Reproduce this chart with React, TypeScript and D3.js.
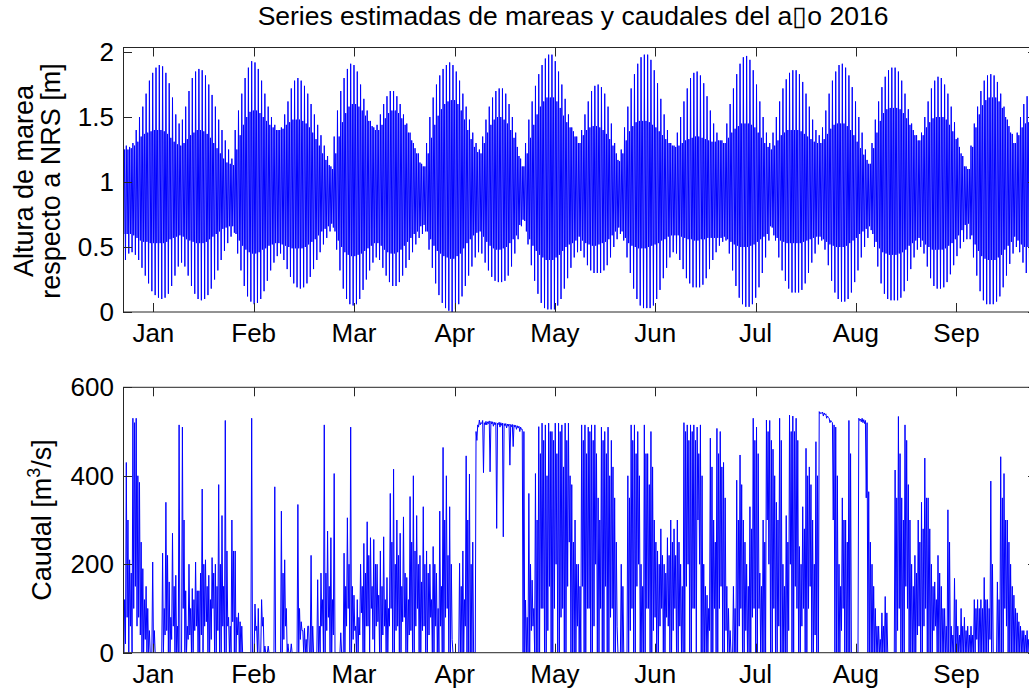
import React from 'react';
import * as d3 from 'd3';

// Month labels and where their ticks fall, in days from the start of the record
const monthLabels = ['Jan', 'Feb', 'Mar', 'Apr', 'May', 'Jun', 'Jul', 'Aug', 'Sep'];
const monthTickDays = [9.2, 39.6, 70.0, 100.5, 130.9, 161.3, 191.7, 222.1, 252.6];

const tideTicks = [0, 0.5, 1, 1.5, 2];
const tideTickLabels = ['0', '0.5', '1', '1.5', '2'];
const flowTicks = [0, 200, 400, 600];
const flowTickLabels = ['0', '200', '400', '600'];

// Daily tide extremes [m, respecto a NRS]: higher high, higher low, lower high, lower low
const higherHigh = [
  1.45, 1.28, 1.27, 1.30, 1.40, 1.50, 1.58, 1.68, 1.78, 1.84,
  1.88, 1.90, 1.89, 1.84, 1.76, 1.65, 1.52, 1.45, 1.48, 1.58,
  1.70, 1.80, 1.85, 1.87, 1.86, 1.82, 1.75, 1.67, 1.58, 1.48,
  1.40, 1.32, 1.25, 1.18, 1.40, 1.55, 1.68, 1.80, 1.88, 1.93,
  1.92, 1.87, 1.78, 1.68, 1.58, 1.50, 1.44, 1.40, 1.42, 1.52,
  1.62, 1.72, 1.78, 1.80, 1.78, 1.74, 1.68, 1.60, 1.52, 1.44,
  1.36, 1.28, 1.20, 1.12, 1.35, 1.55, 1.70, 1.80, 1.87, 1.91,
  1.90, 1.85, 1.75, 1.64, 1.55, 1.47, 1.42, 1.44, 1.52, 1.60,
  1.66, 1.70, 1.70, 1.66, 1.60, 1.52, 1.45, 1.38, 1.30, 1.22,
  1.15, 1.12, 1.30, 1.50, 1.65, 1.75, 1.82, 1.87, 1.90, 1.92,
  1.90, 1.85, 1.78, 1.68, 1.58, 1.48, 1.38, 1.30, 1.25, 1.35,
  1.48, 1.58, 1.65, 1.70, 1.72, 1.72, 1.68, 1.60, 1.50, 1.38,
  1.20, 1.12, 1.30, 1.48, 1.62, 1.74, 1.83, 1.90, 1.95, 1.98,
  1.98, 1.93, 1.85, 1.75, 1.64, 1.52, 1.42, 1.35, 1.30, 1.40,
  1.52, 1.62, 1.70, 1.74, 1.75, 1.73, 1.68, 1.58, 1.45, 1.30,
  1.17, 1.25, 1.42, 1.58, 1.72, 1.83, 1.91, 1.96, 1.98, 1.98,
  1.94, 1.86, 1.76, 1.64, 1.52, 1.40, 1.30, 1.28, 1.38, 1.50,
  1.62, 1.72, 1.80, 1.84, 1.85, 1.82, 1.76, 1.66, 1.55, 1.45,
  1.38, 1.32, 1.30, 1.45, 1.60, 1.72, 1.83, 1.91, 1.96, 1.97,
  1.94, 1.86, 1.75, 1.62, 1.50, 1.38, 1.30, 1.38, 1.50, 1.62,
  1.72, 1.79, 1.84, 1.86, 1.86, 1.83, 1.77, 1.68, 1.58, 1.48,
  1.40, 1.36, 1.42, 1.55, 1.68, 1.78, 1.85, 1.90, 1.91, 1.88,
  1.82, 1.73, 1.62, 1.50, 1.38, 1.25, 1.14, 1.30, 1.48, 1.62,
  1.73, 1.81, 1.86, 1.88, 1.88, 1.85, 1.78, 1.68, 1.56, 1.45,
  1.36, 1.32, 1.38, 1.50, 1.62, 1.72, 1.78, 1.81, 1.80, 1.75,
  1.68, 1.58, 1.46, 1.34, 1.22, 1.12, 1.10, 1.28, 1.45, 1.58,
  1.70, 1.78, 1.82, 1.83, 1.82, 1.77, 1.68, 1.58, 1.48, 1.38,
  1.30, 1.38, 1.50, 1.60, 1.66, 1.70, 1.76, 1.82,
];

const higherLow = [
  0.60, 0.60, 0.60, 0.59, 0.57, 0.55, 0.54, 0.54, 0.53, 0.53,
  0.53, 0.53, 0.53, 0.54, 0.56, 0.57, 0.58, 0.59, 0.58, 0.56,
  0.55, 0.54, 0.53, 0.53, 0.53, 0.54, 0.56, 0.58, 0.60, 0.62,
  0.64, 0.65, 0.66, 0.66, 0.60, 0.55, 0.51, 0.48, 0.46, 0.45,
  0.45, 0.46, 0.48, 0.49, 0.51, 0.52, 0.53, 0.53, 0.52, 0.51,
  0.50, 0.49, 0.49, 0.49, 0.49, 0.50, 0.52, 0.54, 0.56, 0.59,
  0.62, 0.64, 0.66, 0.68, 0.62, 0.55, 0.50, 0.46, 0.44, 0.43,
  0.43, 0.44, 0.45, 0.47, 0.49, 0.51, 0.53, 0.53, 0.51, 0.48,
  0.46, 0.45, 0.45, 0.46, 0.48, 0.51, 0.54, 0.57, 0.60, 0.62,
  0.66, 0.67, 0.62, 0.56, 0.51, 0.47, 0.45, 0.43, 0.42, 0.41,
  0.41, 0.43, 0.45, 0.49, 0.53, 0.56, 0.59, 0.61, 0.62, 0.58,
  0.54, 0.51, 0.49, 0.48, 0.48, 0.49, 0.50, 0.53, 0.56, 0.59,
  0.67, 0.71, 0.62, 0.56, 0.51, 0.47, 0.44, 0.42, 0.40, 0.40,
  0.40, 0.42, 0.44, 0.47, 0.50, 0.52, 0.53, 0.55, 0.58, 0.55,
  0.53, 0.52, 0.51, 0.51, 0.52, 0.53, 0.54, 0.56, 0.59, 0.62,
  0.65, 0.62, 0.57, 0.53, 0.51, 0.50, 0.49, 0.49, 0.49, 0.50,
  0.51, 0.52, 0.53, 0.55, 0.56, 0.58, 0.59, 0.59, 0.59, 0.58,
  0.57, 0.56, 0.56, 0.55, 0.55, 0.56, 0.56, 0.57, 0.57, 0.57,
  0.57, 0.57, 0.58, 0.56, 0.54, 0.52, 0.51, 0.50, 0.50, 0.50,
  0.51, 0.52, 0.54, 0.56, 0.58, 0.60, 0.66, 0.59, 0.57, 0.55,
  0.54, 0.53, 0.53, 0.53, 0.53, 0.53, 0.54, 0.55, 0.56, 0.57,
  0.58, 0.58, 0.56, 0.54, 0.52, 0.51, 0.50, 0.50, 0.50, 0.51,
  0.53, 0.55, 0.57, 0.60, 0.62, 0.64, 0.66, 0.60, 0.54, 0.49,
  0.46, 0.45, 0.44, 0.44, 0.44, 0.45, 0.46, 0.48, 0.51, 0.53,
  0.55, 0.57, 0.55, 0.52, 0.50, 0.48, 0.48, 0.48, 0.48, 0.49,
  0.51, 0.53, 0.56, 0.59, 0.63, 0.67, 0.68, 0.59, 0.52, 0.47,
  0.43, 0.41, 0.40, 0.40, 0.40, 0.42, 0.44, 0.48, 0.51, 0.54,
  0.58, 0.55, 0.52, 0.50, 0.50, 0.49, 0.48, 0.47,
];

const lowerHigh = [
  1.25, 1.25, 1.26, 1.28, 1.31, 1.35, 1.37, 1.38, 1.39, 1.40,
  1.40, 1.40, 1.39, 1.37, 1.34, 1.31, 1.29, 1.28, 1.30, 1.33,
  1.36, 1.38, 1.40, 1.40, 1.39, 1.37, 1.34, 1.30, 1.26, 1.22,
  1.18, 1.15, 1.14, 1.13, 1.25, 1.36, 1.44, 1.50, 1.54, 1.55,
  1.55, 1.53, 1.50, 1.47, 1.44, 1.42, 1.40, 1.40, 1.41, 1.44,
  1.46, 1.48, 1.48, 1.48, 1.47, 1.45, 1.42, 1.38, 1.33, 1.28,
  1.22, 1.17, 1.13, 1.10, 1.22, 1.35, 1.46, 1.53, 1.58, 1.60,
  1.60, 1.58, 1.55, 1.51, 1.47, 1.43, 1.40, 1.40, 1.44, 1.49,
  1.53, 1.55, 1.55, 1.53, 1.49, 1.44, 1.38, 1.32, 1.26, 1.22,
  1.14, 1.12, 1.22, 1.34, 1.44, 1.51, 1.56, 1.60, 1.62, 1.63,
  1.63, 1.60, 1.55, 1.48, 1.40, 1.33, 1.27, 1.23, 1.22, 1.30,
  1.38, 1.44, 1.48, 1.50, 1.50, 1.48, 1.45, 1.40, 1.34, 1.27,
  1.18, 1.12, 1.22, 1.34, 1.44, 1.52, 1.58, 1.62, 1.65, 1.65,
  1.65, 1.62, 1.57, 1.51, 1.46, 1.42, 1.39, 1.35, 1.30, 1.36,
  1.40, 1.42, 1.43, 1.43, 1.42, 1.40, 1.37, 1.33, 1.28, 1.22,
  1.16, 1.22, 1.32, 1.39, 1.43, 1.46, 1.47, 1.47, 1.47, 1.46,
  1.44, 1.42, 1.39, 1.36, 1.33, 1.30, 1.28, 1.27, 1.28, 1.30,
  1.32, 1.33, 1.34, 1.35, 1.35, 1.34, 1.33, 1.32, 1.31, 1.31,
  1.32, 1.32, 1.30, 1.34, 1.38, 1.41, 1.43, 1.45, 1.45, 1.45,
  1.44, 1.42, 1.38, 1.34, 1.30, 1.27, 1.25, 1.28, 1.32, 1.36,
  1.38, 1.40, 1.40, 1.40, 1.40, 1.39, 1.37, 1.35, 1.33, 1.31,
  1.30, 1.30, 1.33, 1.37, 1.41, 1.44, 1.45, 1.45, 1.45, 1.43,
  1.40, 1.36, 1.31, 1.26, 1.21, 1.17, 1.14, 1.26, 1.38, 1.47,
  1.53, 1.56, 1.57, 1.57, 1.57, 1.56, 1.53, 1.49, 1.44, 1.40,
  1.36, 1.32, 1.36, 1.42, 1.46, 1.49, 1.50, 1.50, 1.50, 1.48,
  1.44, 1.39, 1.33, 1.27, 1.20, 1.12, 1.10, 1.27, 1.42, 1.52,
  1.59, 1.63, 1.65, 1.65, 1.65, 1.62, 1.57, 1.50, 1.43, 1.37,
  1.30, 1.36, 1.42, 1.45, 1.46, 1.47, 1.48, 1.50,
];

const lowerLow = [
  0.40, 0.45, 0.46, 0.44, 0.40, 0.34, 0.28, 0.22, 0.16, 0.13,
  0.11, 0.10, 0.11, 0.14, 0.20, 0.28, 0.35, 0.38, 0.35, 0.28,
  0.20, 0.14, 0.10, 0.09, 0.10, 0.13, 0.18, 0.25, 0.32, 0.40,
  0.47, 0.53, 0.58, 0.61, 0.45, 0.32, 0.20, 0.12, 0.08, 0.06,
  0.07, 0.10, 0.16, 0.24, 0.32, 0.38, 0.43, 0.45, 0.40, 0.33,
  0.27, 0.22, 0.19, 0.18, 0.19, 0.22, 0.27, 0.33, 0.40, 0.46,
  0.52, 0.57, 0.62, 0.65, 0.48, 0.32, 0.18, 0.10, 0.06, 0.05,
  0.06, 0.10, 0.17, 0.25, 0.32, 0.38, 0.42, 0.40, 0.34, 0.28,
  0.23, 0.20, 0.20, 0.23, 0.28, 0.34, 0.40, 0.46, 0.52, 0.57,
  0.60, 0.62, 0.48, 0.34, 0.22, 0.13, 0.07, 0.03, 0.01, 0.00,
  0.02, 0.06, 0.12, 0.20, 0.28, 0.35, 0.42, 0.46, 0.45, 0.38,
  0.32, 0.27, 0.24, 0.23, 0.23, 0.24, 0.28, 0.35, 0.45, 0.56,
  0.66, 0.70, 0.52, 0.36, 0.24, 0.14, 0.07, 0.03, 0.02, 0.02,
  0.02, 0.05, 0.10, 0.18, 0.26, 0.34, 0.42, 0.46, 0.47, 0.42,
  0.36, 0.32, 0.30, 0.30, 0.30, 0.32, 0.36, 0.42, 0.50, 0.56,
  0.60, 0.55, 0.42, 0.30, 0.18, 0.10, 0.05, 0.03, 0.03, 0.03,
  0.05, 0.10, 0.17, 0.26, 0.34, 0.42, 0.46, 0.45, 0.40, 0.33,
  0.26, 0.22, 0.19, 0.19, 0.19, 0.21, 0.26, 0.33, 0.40, 0.46,
  0.51, 0.54, 0.55, 0.45, 0.32, 0.20, 0.11, 0.06, 0.04, 0.04,
  0.06, 0.11, 0.19, 0.30, 0.42, 0.55, 0.65, 0.55, 0.42, 0.32,
  0.24, 0.18, 0.15, 0.15, 0.15, 0.17, 0.22, 0.30, 0.38, 0.45,
  0.52, 0.55, 0.48, 0.36, 0.24, 0.15, 0.10, 0.08, 0.08, 0.10,
  0.15, 0.23, 0.32, 0.42, 0.50, 0.57, 0.63, 0.50, 0.35, 0.22,
  0.14, 0.10, 0.09, 0.09, 0.09, 0.11, 0.16, 0.24, 0.33, 0.42,
  0.48, 0.50, 0.45, 0.35, 0.26, 0.20, 0.18, 0.18, 0.19, 0.23,
  0.29, 0.36, 0.43, 0.49, 0.54, 0.56, 0.56, 0.42, 0.28, 0.16,
  0.09, 0.06, 0.06, 0.06, 0.08, 0.12, 0.19, 0.28, 0.37, 0.45,
  0.50, 0.46, 0.38, 0.30, 0.24, 0.20, 0.15, 0.11,
];

// Discharge [m3/s], four readings per day: main peak, first low, second peak, second low
const flowPeak = [
  170, 430, 210, 530, 530, 385, 190, 150, 50, 205,
  0, 0, 225, 340, 160, 270, 175, 515, 510, 140,
  200, 145, 205, 140, 370, 210, 175, 215, 200, 380,
  310, 525, 80, 300, 230, 90, 60, 0, 0, 530,
  110, 100, 120, 15, 15, 0, 375, 0, 320, 210,
  20, 20, 0, 335, 70, 55, 60, 220, 0, 165,
  180, 515, 275, 260, 405, 0, 45, 225, 305, 510,
  130, 120, 200, 247, 296, 260, 256, 200, 230, 262,
  170, 360, 415, 300, 270, 307, 170, 353, 400, 310,
  220, 330, 230, 200, 240, 180, 320, 464, 400, 330,
  0, 0, 202, 230, 445, 404, 250, 500, 526, 525,
  523, 524, 522, 520, 521, 519, 518, 517, 516, 514,
  512, 505, 119, 360, 164, 405, 511, 519, 515, 519,
  500, 519, 519, 515, 519, 519, 380, 300, 200, 515,
  515, 510, 515, 515, 350, 510, 500, 510, 480, 350,
  0, 200, 0, 400, 515, 515, 500, 200, 515, 450,
  500, 300, 230, 280, 200, 260, 300, 280, 300, 200,
  520, 515, 515, 515, 510, 515, 200, 130, 485, 300,
  507, 500, 430, 150, 50, 150, 390, 447, 300, 200,
  330, 530, 510, 180, 300, 526, 525, 460, 340, 530,
  200, 310, 537, 535, 530, 240, 330, 462, 420, 300,
  477, 545, 544, 540, 530, 520, 510, 200, 350, 300,
  525, 0, 0, 530, 530, 525, 364, 200, 100, 60,
  90, 127, 0, 0, 413, 534, 350, 515, 380, 200,
  220, 300, 340, 440, 350, 200, 160, 220, 150, 100,
  323, 60, 168, 60, 100, 80, 60, 60, 120, 120,
  120, 170, 120, 388, 0, 160, 443, 405, 300, 200,
  130, 90, 60, 50, 50, 0, 40, 60,
];

const flowBase = [
  0, 80, 60, 100, 60, 40, 0, 0, 0, 0,
  0, 0, 0, 50, 0, 60, 0, 0, 100, 0,
  40, 0, 60, 0, 0, 70, 0, 100, 0, 0,
  60, 0, 0, 70, 0, 0, 0, 0, 0, 0,
  50, 0, 60, 0, 0, 0, 0, 0, 0, 60,
  0, 0, 0, 0, 50, 0, 60, 0, 0, 0,
  60, 0, 80, 0, 0, 0, 0, 0, 100, 0,
  50, 0, 90, 0, 60, 100, 0, 70, 0, 60,
  0, 100, 0, 60, 0, 80, 0, 50, 0, 100,
  0, 60, 0, 80, 0, 0, 60, 0, 100, 0,
  0, 0, 0, 0, 0, 0, 0, 480, 515, 407,
  515, 409, 512, 281, 510, 262, 508, 424, 466, 505,
  500, 0, 0, 0, 60, 0, 0, 100, 0, 150,
  0, 200, 0, 100, 0, 250, 0, 0, 0, 150,
  0, 100, 0, 200, 0, 0, 150, 0, 100, 0,
  0, 0, 0, 0, 100, 0, 200, 0, 0, 100,
  0, 80, 0, 100, 0, 60, 0, 100, 0, 0,
  0, 200, 0, 100, 300, 0, 0, 0, 0, 100,
  0, 150, 0, 0, 0, 0, 0, 100, 0, 0,
  0, 100, 0, 0, 0, 300, 0, 100, 0, 0,
  0, 0, 200, 0, 100, 0, 100, 0, 150, 0,
  0, 540, 535, 530, 520, 300, 0, 0, 100, 0,
  0, 0, 0, 525, 520, 350, 0, 0, 0, 0,
  0, 0, 0, 0, 0, 100, 0, 150, 0, 0,
  0, 60, 0, 100, 0, 0, 60, 0, 0, 0,
  0, 0, 0, 0, 0, 0, 0, 0, 0, 0,
  0, 0, 0, 0, 0, 0, 0, 100, 0, 0,
  0, 0, 0, 0, 0, 0, 0, 0,
];

const flowSecondPeak = [
  120, 300, 180, 520, 400, 250, 120, 100, 0, 50,
  0, 0, 100, 220, 80, 150, 60, 0, 300, 60,
  100, 120, 140, 180, 200, 150, 120, 180, 150, 200,
  150, 230, 60, 230, 80, 70, 0, 0, 0, 0,
  60, 0, 80, 0, 0, 0, 0, 0, 180, 100,
  0, 0, 0, 100, 50, 30, 0, 60, 0, 60,
  120, 180, 150, 120, 0, 0, 0, 150, 200, 150,
  60, 80, 150, 180, 220, 150, 200, 130, 150, 120,
  100, 250, 200, 220, 150, 180, 120, 250, 230, 200,
  160, 200, 180, 120, 200, 100, 150, 300, 220, 200,
  0, 0, 150, 120, 300, 200, 0, 515, 520, 520,
  522, 523, 521, 519, 520, 518, 517, 516, 515, 513,
  510, 500, 80, 200, 100, 300, 450, 480, 400, 500,
  480, 450, 500, 420, 480, 400, 250, 200, 150, 480,
  450, 500, 480, 450, 300, 480, 450, 400, 420, 250,
  0, 150, 0, 350, 480, 450, 400, 150, 450, 380,
  420, 250, 200, 220, 180, 220, 250, 220, 250, 150,
  500, 480, 500, 480, 450, 400, 150, 100, 420, 250,
  450, 420, 350, 100, 0, 100, 300, 380, 250, 150,
  280, 480, 450, 150, 250, 500, 480, 400, 300, 480,
  150, 250, 500, 500, 480, 200, 280, 400, 380, 200,
  400, 543, 542, 535, 525, 515, 400, 150, 300, 250,
  450, 0, 0, 528, 527, 520, 250, 150, 60, 30,
  60, 90, 0, 0, 350, 450, 300, 480, 300, 150,
  180, 250, 280, 350, 280, 150, 120, 180, 100, 60,
  250, 40, 120, 40, 60, 50, 40, 40, 100, 100,
  100, 120, 100, 200, 0, 120, 350, 300, 250, 150,
  100, 70, 50, 40, 30, 0, 30, 40,
];

const flowSecondBase = [
  20, 0, 0, 150, 80, 0, 30, 0, 0, 0,
  0, 0, 40, 0, 30, 0, 0, 0, 0, 30,
  0, 50, 0, 40, 60, 0, 30, 0, 50, 0,
  0, 60, 0, 0, 40, 0, 0, 0, 0, 0,
  0, 0, 0, 0, 0, 0, 0, 0, 30, 0,
  0, 0, 0, 30, 0, 0, 0, 0, 0, 0,
  0, 50, 0, 40, 0, 0, 0, 60, 0, 30,
  0, 40, 0, 60, 0, 30, 60, 0, 40, 0,
  60, 0, 50, 0, 70, 0, 40, 0, 60, 0,
  50, 0, 40, 0, 60, 0, 0, 80, 0, 30,
  0, 0, 0, 60, 0, 0, 0, 510, 518, 515,
  518, 517, 515, 516, 514, 513, 512, 511, 510, 508,
  505, 0, 0, 50, 0, 0, 100, 0, 50, 0,
  100, 0, 80, 0, 150, 0, 0, 60, 0, 0,
  100, 0, 60, 0, 100, 0, 0, 80, 0, 60,
  0, 0, 0, 50, 0, 150, 0, 0, 100, 0,
  50, 0, 60, 0, 80, 0, 50, 0, 60, 0,
  150, 0, 100, 0, 200, 0, 0, 50, 0, 0,
  100, 0, 50, 0, 0, 0, 60, 0, 50, 0,
  80, 0, 100, 0, 0, 200, 0, 0, 60, 0,
  0, 50, 0, 150, 0, 60, 0, 100, 0, 40,
  0, 541, 538, 532, 522, 0, 0, 50, 0, 0,
  0, 0, 0, 522, 518, 0, 0, 0, 0, 0,
  0, 0, 0, 0, 50, 0, 0, 100, 0, 0,
  40, 0, 60, 0, 0, 50, 0, 0, 0, 0,
  0, 0, 0, 0, 0, 0, 0, 0, 30, 0,
  0, 0, 30, 0, 0, 0, 0, 60, 0, 0,
  0, 0, 0, 0, 0, 0, 0, 0,
];

const W = 1029;
const H = 690;
const LEFT = 123;
const RIGHT = 1037;
const TIDE_TOP = 47.5;
const TIDE_BOTTOM = 312;
const FLOW_TOP = 387.3;
const FLOW_BOTTOM = 652.7;
const FONT = '"Liberation Sans", Arial, Helvetica, sans-serif';
const AXIS_COLOR = '#262626';
const LINE_COLOR = '#0000ff';
const TICK_LEN = 9;
const TICK_FONT = 26;
const LABEL_FONT = 27;

const x = d3.scaleLinear().domain([0, 277]).range([LEFT, RIGHT]);
const yTide = d3.scaleLinear().domain([0, 2.035]).range([TIDE_BOTTOM, TIDE_TOP]);
const yFlow = d3.scaleLinear().domain([0, 600]).range([FLOW_BOTTOM, FLOW_TOP]);

type Pt = [number, number];

// Four turning points per day: high, low, high, low
const tidePoints: Pt[] = [];
higherHigh.forEach((_, i) => {
  tidePoints.push([i, higherHigh[i]]);
  tidePoints.push([i + 0.25, higherLow[i]]);
  tidePoints.push([i + 0.5, lowerHigh[i]]);
  tidePoints.push([i + 0.75, lowerLow[i]]);
});

const flowPoints: Pt[] = [];
flowPeak.forEach((_, i) => {
  flowPoints.push([i, flowPeak[i]]);
  flowPoints.push([i + 0.25, flowBase[i]]);
  flowPoints.push([i + 0.5, flowSecondPeak[i]]);
  flowPoints.push([i + 0.75, flowSecondBase[i]]);
});

const tidePath = d3.line<Pt>().x((d) => x(d[0])).y((d) => yTide(d[1]))(tidePoints) || '';
const flowPath = d3.line<Pt>().x((d) => x(d[0])).y((d) => yFlow(d[1]))(flowPoints) || '';

function Frame(props: {
  top: number;
  bottom: number;
  y: d3.ScaleLinear<number, number>;
  yTicks: number[];
  yLabels: string[];
}) {
  const { top, bottom, y, yTicks, yLabels } = props;
  return (
    <g>
      <rect
        x={LEFT + 0.5}
        y={top}
        width={RIGHT - LEFT}
        height={bottom - top}
        fill="none"
        stroke={AXIS_COLOR}
        strokeWidth={1}
      />
      {monthTickDays.map((d, i) => {
        const px = Math.round(x(d)) + 0.5;
        return (
          <g key={'mx' + i}>
            <line x1={px} x2={px} y1={bottom} y2={bottom - TICK_LEN} stroke={AXIS_COLOR} />
            <line x1={px} x2={px} y1={top} y2={top + TICK_LEN} stroke={AXIS_COLOR} />
            <text
              x={x(d)}
              y={bottom + 30}
              textAnchor="middle"
              fontFamily={FONT}
              fontSize={TICK_FONT}
              fill="#000"
            >
              {monthLabels[i]}
            </text>
          </g>
        );
      })}
      {yTicks.map((t, i) => {
        const py = Math.round(y(t)) + 0.5;
        return (
          <g key={'yt' + i}>
            <line x1={LEFT} x2={LEFT + TICK_LEN} y1={py} y2={py} stroke={AXIS_COLOR} />
            <line x1={RIGHT} x2={RIGHT - TICK_LEN} y1={py} y2={py} stroke={AXIS_COLOR} />
            <text
              x={114}
              y={y(t) + 9}
              textAnchor="end"
              fontFamily={FONT}
              fontSize={TICK_FONT}
              fill="#000"
            >
              {yLabels[i]}
            </text>
          </g>
        );
      })}
    </g>
  );
}

export default function App() {
  return (
    <div style={{ position: 'absolute', left: 0, top: 0 }}>
      <svg width={W} height={H} viewBox={`0 0 ${W} ${H}`} style={{ display: 'block', background: '#fff' }}>
        <defs>
          <clipPath id="clipTide">
            <rect x={LEFT} y={TIDE_TOP} width={RIGHT - LEFT} height={TIDE_BOTTOM - TIDE_TOP} />
          </clipPath>
          <clipPath id="clipFlow">
            <rect x={LEFT} y={FLOW_TOP} width={RIGHT - LEFT} height={FLOW_BOTTOM - FLOW_TOP} />
          </clipPath>
        </defs>
        <rect x={0} y={0} width={W} height={H} fill="#fff" />

        <text x={573} y={25} textAnchor="middle" fontFamily={FONT} fontSize={26.5} fill="#000">
          {'Series estimadas de mareas y caudales del a\u25AFo 2016'}
        </text>

        <g clipPath="url(#clipTide)">
          <path d={tidePath} fill="none" stroke={LINE_COLOR} strokeWidth={1} />
        </g>
        <Frame top={TIDE_TOP} bottom={TIDE_BOTTOM} y={yTide} yTicks={tideTicks} yLabels={tideTickLabels} />

        <text transform="translate(33,181) rotate(-90)" textAnchor="middle" fontFamily={FONT} fontSize={LABEL_FONT} fill="#000">
          Altura de marea
        </text>
        <text transform="translate(60,181) rotate(-90)" textAnchor="middle" fontFamily={FONT} fontSize={LABEL_FONT} fill="#000">
          respecto a NRS [m]
        </text>

        <g clipPath="url(#clipFlow)">
          <path d={flowPath} fill="none" stroke={LINE_COLOR} strokeWidth={1} />
        </g>
        <Frame top={FLOW_TOP} bottom={FLOW_BOTTOM} y={yFlow} yTicks={flowTicks} yLabels={flowTickLabels} />

        <text transform="translate(51,520) rotate(-90)" textAnchor="middle" fontFamily={FONT} fontSize={LABEL_FONT} fill="#000">
          <tspan>Caudal [m</tspan>
          <tspan fontSize={18} dy={-11}>3</tspan>
          <tspan dy={11}>/s]</tspan>
        </text>
      </svg>
    </div>
  );
}
